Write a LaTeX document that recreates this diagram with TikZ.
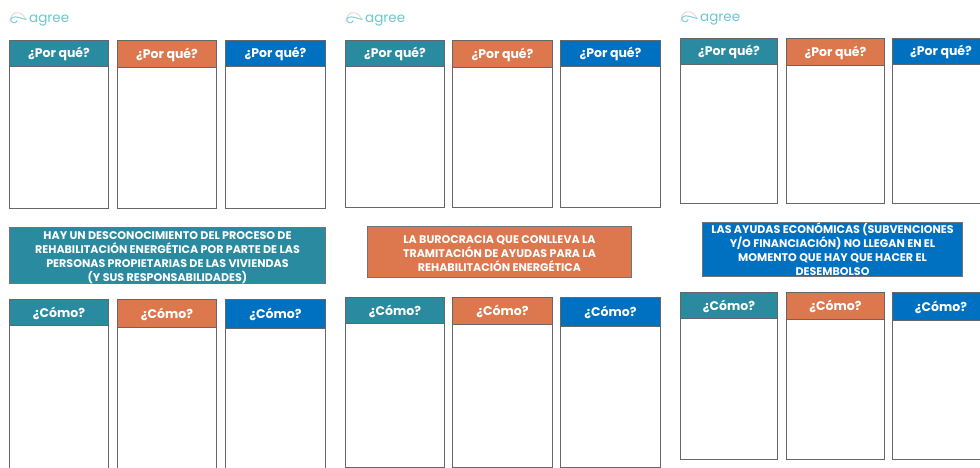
\documentclass[tikz,border=0pt]{standalone}
\usepackage{fontspec}
\setmainfont{Poppins}
\definecolor{cteal}{HTML}{2A8AA0}
\definecolor{corange}{HTML}{DC774E}
\definecolor{cblue}{HTML}{0070C0}
\definecolor{clogo}{HTML}{6CC7D3}
\definecolor{clogob}{HTML}{EFD8CC}
\tikzset{
  x=1pt,y=-1pt,
  headbox/.style={draw=black!60,line width=.9pt,inner sep=0pt,text=white,text height=10pt,text depth=0pt,font=\bfseries\fontsize{12.5}{14}\selectfont},
  bodybox/.style={draw=black!60,line width=.9pt,fill=white,inner sep=0pt},
  titlebox/.style={draw=black!55,line width=.9pt,inner xsep=0pt,inner ysep=-5pt,text=white,align=center,font=\bfseries\fontsize{11.1}{14}\selectfont},
  logotext/.style={text=clogo,inner sep=0pt,font=\fontsize{13.5}{14}\selectfont},
  logoarc/.style={line width=1pt,line cap=round}
}
% name, x0, x1, ytop, yhead, ybottom, colour, text
\newcommand{\cardbox}[8]{%
  \pgfmathsetmacro{\cxm}{(#2+#3)/2}%
  \pgfmathsetmacro{\cwd}{#3-#2-.4}%
  \pgfmathsetmacro{\bym}{(#5+#6)/2}%
  \pgfmathsetmacro{\bht}{#6-#5}%
  \pgfmathsetmacro{\hym}{(#4+#5)/2}%
  \pgfmathsetmacro{\hht}{#5-#4}%
  \node[bodybox,minimum width=\cwd pt,minimum height=\bht pt] (#1b) at (\cxm,\bym) {};
  \node[headbox,fill=#7,minimum width=\cwd pt,minimum height=\hht pt] (#1h) at (\cxm,\hym) {#8};
}
\newcommand{\titlecard}[7]{%
  \pgfmathsetmacro{\cxm}{(#2+#3)/2}%
  \pgfmathsetmacro{\cwd}{#3-#2-.4}%
  \pgfmathsetmacro{\hym}{(#4+#5)/2}%
  \pgfmathsetmacro{\hht}{#5-#4}%
  \node[titlebox,fill=#6,minimum width=\cwd pt,minimum height=\hht pt] (#1) at (\cxm,\hym) {#7};
}
\newcommand{\agreelogo}[3]{%
  \begin{scope}[shift={(#2,#3)}]
    \draw[logoarc,clogob] (0,10) .. controls (0,-2) and (11,-3) .. (16,7);
    \draw[logoarc,clogo!85!white] (16,7) -- (9,5) .. controls (3,3) and (0,6) .. (1,8) .. controls (2,11) and (7,11) .. (7,8);
  \end{scope}
  \node[logotext,anchor=base west] (#1) at (#2+19,#3+10) {agree};
}
\begin{document}
\begin{tikzpicture}
\useasboundingbox (0,0) rectangle (980,468);
\clip (0,0) rectangle (980,468);
\fill[white] (0,0) rectangle (980,468);
% panel 1
\agreelogo{logoa}{10}{12.5}
\cardbox{pa}{9}{109}{40}{66}{208}{cteal}{¿Por qué?}
\cardbox{pb}{117}{217}{40}{67}{208}{corange}{¿Por qué?}
\cardbox{pc}{225}{326}{40}{66}{208}{cblue}{¿Por qué?}
\titlecard{ta}{9}{326}{227}{283}{cteal}{\rule{0pt}{14pt}HAY UN DESCONOCIMIENTO DEL PROCESO DE\\REHABILITACIÓN ENERGÉTICA POR PARTE DE LAS\\PERSONAS PROPIETARIAS DE LAS VIVIENDAS\\(Y SUS RESPONSABILIDADES)}
\cardbox{ca}{9}{109}{299}{325}{480}{cteal}{¿Cómo?}
\cardbox{cb}{117}{217}{299}{327}{480}{corange}{¿Cómo?}
\cardbox{cc}{225}{326}{299}{328}{480}{cblue}{¿Cómo?}
% panel 2
\agreelogo{logob}{346}{12.5}
\cardbox{pd}{345}{445}{40}{66}{207}{cteal}{¿Por qué?}
\cardbox{pe}{452}{553}{40}{67}{207}{corange}{¿Por qué?}
\cardbox{pf}{560}{661}{40}{66}{207}{cblue}{¿Por qué?}
\titlecard{tb}{367}{632}{226}{277}{corange}{\rule{0pt}{11.5pt}LA BUROCRACIA QUE CONLLEVA LA\\TRAMITACIÓN DE AYUDAS PARA LA\\REHABILITACIÓN ENERGÉTICA}
\cardbox{cd}{345}{445}{297}{323}{467}{cteal}{¿Cómo?}
\cardbox{ce}{452}{553}{297}{324}{467}{corange}{¿Cómo?}
\cardbox{cf}{560}{661}{297}{326}{467}{cblue}{¿Cómo?}
% panel 3
\agreelogo{logoc}{681}{11.5}
\cardbox{pg}{680}{778}{38}{64}{203}{cteal}{¿Por qué?}
\cardbox{ph}{786}{885}{38}{65}{203}{corange}{¿Por qué?}
\cardbox{pi}{892}{990}{38}{64}{203}{cblue}{¿Por qué?}
\titlecard{tc}{702}{963}{222}{276}{cblue}{LAS AYUDAS ECONÓMICAS (SUBVENCIONES\\Y/O FINANCIACIÓN) NO LLEGAN EN EL\\MOMENTO QUE HAY QUE HACER EL\\DESEMBOLSO}
\cardbox{cg}{680}{778}{292}{318}{459}{cteal}{¿Cómo?}
\cardbox{ch}{786}{885}{292}{319}{459}{corange}{¿Cómo?}
\cardbox{ci}{892}{990}{292}{320}{459}{cblue}{¿Cómo?}
\end{tikzpicture}
\end{document}
